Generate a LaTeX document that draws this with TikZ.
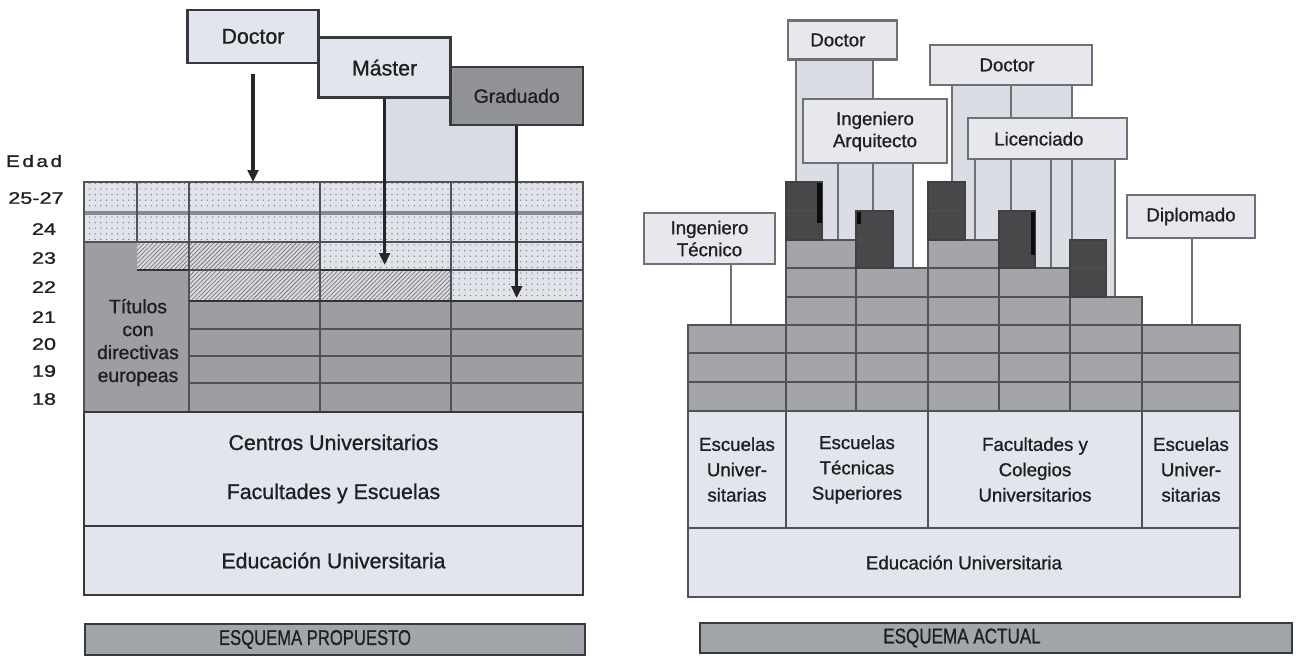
\documentclass[tikz,border=0pt]{standalone}
\usepackage{fontspec}
\setmainfont{Liberation Sans}[FakeBold=0.9]
\usepackage{graphicx}
\usetikzlibrary{patterns.meta,arrows.meta}
\definecolor{txt}{RGB}{30,30,35}
\definecolor{edge}{RGB}{55,57,62}
\definecolor{lightbox}{RGB}{226,229,236}
\definecolor{colbg}{RGB}{216,220,228}
\definecolor{gradc}{RGB}{146,147,150}
\definecolor{gridgray}{RGB}{156,158,162}
\definecolor{dotbg}{RGB}{224,227,233}
\definecolor{dotc}{RGB}{120,123,132}
\definecolor{hatchbg}{RGB}{216,218,222}
\definecolor{hatchc}{RGB}{118,120,126}
\definecolor{bandc}{RGB}{135,138,148}
\definecolor{rlight}{RGB}{230,232,237}
\definecolor{redge}{RGB}{110,112,118}
\definecolor{pill}{RGB}{218,221,227}
\definecolor{stair}{RGB}{163,165,169}
\definecolor{darkb}{RGB}{72,72,75}
\definecolor{barc}{RGB}{162,165,170}
\definecolor{gline}{RGB}{80,82,88}
\definecolor{schoolc}{RGB}{226,229,235}
\newcommand\pxl[1]{#1*0.75pt}
\begin{document}
\begin{tikzpicture}[x=0.75pt,y=-0.75pt,
  lbox/.style={draw=edge,line width=1.9pt,fill=lightbox,inner sep=0pt,text=txt,align=center,font=\fontsize{16}{19}\selectfont},
  rbox/.style={draw=redge,line width=1.6pt,fill=rlight,inner sep=0pt,text=txt,align=center,font=\fontsize{14}{16.5}\selectfont},
  schoolbox/.style={draw=gline,line width=1.2pt,fill=schoolc,inner sep=0pt,text=txt,align=center,font=\fontsize{14}{19}\selectfont},
  lbl/.style={text=txt,inner sep=0pt,align=center},
  agelbl/.style={text=txt,inner sep=0pt,font=\fontsize{12.5}{14}\selectfont},
  arr/.style={draw=black!85,line width=2.3pt,-{Triangle[width=8pt,length=9pt]}},
  dotcell/.style={fill=dotbg,postaction={pattern={Dots[distance=4.2pt,radius=0.55pt]},pattern color=dotc}},
  hatchcell/.style={fill=hatchbg,postaction={pattern={Lines[angle=45,distance=2.3pt,line width=0.55pt]},pattern color=hatchc}},
  thin/.style={draw=gline,line width=0.9pt},
  thick/.style={draw=black!80,line width=1.8pt},
  pline/.style={draw=redge,line width=1.2pt},
  stairc/.style={fill=stair,draw=gline,line width=1pt},
  darkc/.style={fill=darkb,draw=black!75,line width=0.8pt},
  barbox/.style={draw=edge,line width=1.8pt,fill=barc,inner sep=0pt,text=txt,font=\fontsize{16}{18}\selectfont}
]
\useasboundingbox (0,0) rectangle (1300,665);
\fill[white] (0,0) rectangle (1300,665);

%================ LEFT: ESQUEMA PROPUESTO ================
% light column under Master
\fill[colbg] (385,97) rectangle (518,182);
% title boxes
\node[lbox,minimum width=\pxl{131},minimum height=\pxl{53}] (dL) at (253,36.4) {Doctor};
\node[lbox,minimum width=\pxl{132},minimum height=\pxl{60}] (mL) at (384.6,67.7) {Máster};
\node[lbox,fill=gradc,minimum width=\pxl{132.5},minimum height=\pxl{58},font=\fontsize{14.5}{17}\selectfont] (gL) at (516.7,95.9) {Graduado};

% grid fills
\fill[dotcell] (84,182) rectangle (583,242);
\fill[dotcell] (320,242) rectangle (583,270);
\fill[dotcell] (451,270) rectangle (583,301);
\fill[hatchcell] (137,242) rectangle (320,270);
\fill[hatchcell] (189,270) rectangle (451,301);
\fill[gridgray] (84,242) -- (137,242) -- (137,270) -- (189,270) -- (189,301) -- (583,301) -- (583,412) -- (84,412) -- cycle;

% grid lines
\draw[draw=bandc,line width=2.6pt] (84,213) -- (583,213);
\draw[thin] (84,242) -- (583,242);
\draw[thin] (189,270) -- (583,270);
\draw[thin] (137,182) -- (137,242);
\draw[thin] (189,182) -- (189,412);
\draw[thin] (320,182) -- (320,412);
\draw[thin] (451,182) -- (451,412);
\draw[thin] (189,329) -- (583,329);
\draw[thin] (189,356) -- (583,356);
\draw[thin] (189,383) -- (583,383);
\draw[thick] (137,270) -- (189,270);
\draw[thick] (320,270) -- (451,270);
\draw[thick] (189,301) -- (583,301);
\draw[thin] (84,182) rectangle (583,412);

\node[lbl,font=\fontsize{14.5}{17.2}\selectfont] (tit) at (138,342.5) {Títulos\\con\\directivas\\europeas};

% arrows
\coordinate (aD) at (253,182);
\coordinate (aM) at (385,265);
\coordinate (aG) at (518,298);
\draw[arr,shorten <=7pt] (dL.south) -- (aD);
\draw[arr] (mL.south) -- (mL.south |- aM);
\draw[arr] (gL.south) -- (gL.south |- aG);

% age labels
\node[agelbl] (edad) at (34,161) {\scalebox{1.25}[1]{\addfontfeature{LetterSpace=12}Edad}};
\node[agelbl] (e1) at (36,198) {\scalebox{1.3}[1]{25-27}};
\node[agelbl] (e2) at (44,229) {\scalebox{1.3}[1]{24}};
\node[agelbl] (e3) at (44,258) {\scalebox{1.3}[1]{23}};
\node[agelbl] (e4) at (44,287) {\scalebox{1.3}[1]{22}};
\node[agelbl] (e5) at (44,317) {\scalebox{1.3}[1]{21}};
\node[agelbl] (e6) at (44,344) {\scalebox{1.3}[1]{20}};
\node[agelbl] (e7) at (44,371) {\scalebox{1.3}[1]{19}};
\node[agelbl] (e8) at (44,399) {\scalebox{1.3}[1]{18}};

% lower boxes
\node[lbox,line width=1.6pt,minimum width=\pxl{499},minimum height=\pxl{114},font=\fontsize{16}{36.75}\selectfont] (cen) at (333.5,469) {Centros Universitarios\\Facultades y Escuelas};
\node[lbox,line width=1.6pt,minimum width=\pxl{499},minimum height=\pxl{69}] (eduL) at (333.5,560.5) {Educación Universitaria};
\node[barbox,minimum width=\pxl{500},minimum height=\pxl{31}] (barL) at (335,639.5) {\scalebox{0.78}[1]{ESQUEMA PROPUESTO}\hspace*{30pt}};

%================ RIGHT: ESQUEMA ACTUAL ================
% pillars
\fill[pill] (796,59) rectangle (873,297);
\fill[pill] (838,163) rectangle (912.7,297);
\fill[pill] (952,85) rectangle (1072,297);
\fill[pill] (975,159) rectangle (1115,297);
\draw[pline] (796,59) -- (796,297);
\draw[pline] (873,59) -- (873,297);
\draw[pline] (838,163) -- (838,297);
\draw[pline] (912.7,163) -- (912.7,297);
\draw[pline] (952,85) -- (952,297);
\draw[pline] (1011,85) -- (1011,297);
\draw[pline] (1072,85) -- (1072,297);
\draw[pline] (975,159) -- (975,297);
\draw[pline] (1050.7,159) -- (1050.7,297);
\draw[pline] (1115,159) -- (1115,297);

% title boxes
\node[rbox,minimum width=\pxl{109},minimum height=\pxl{39}] (dR1) at (842.5,40) {Doctor\hspace*{7pt}};
\node[rbox,minimum width=\pxl{144},minimum height=\pxl{64}] (iaR) at (875,131.3) {Ingeniero\\Arquitecto};
\node[rbox,minimum width=\pxl{162},minimum height=\pxl{40}] (dR2) at (1011,65) {Doctor\hspace*{6pt}};
\node[rbox,minimum width=\pxl{159},minimum height=\pxl{41}] (liR) at (1047.5,138.8) {Licenciado\hspace*{13pt}};
\node[rbox,minimum width=\pxl{131},minimum height=\pxl{51}] (itR) at (709.5,238.5) {Ingeniero\\Técnico};
\node[rbox,minimum width=\pxl{128},minimum height=\pxl{43}] (dpR) at (1191,216.5) {Diplomado};

\coordinate (itEnd) at (731,325);
\coordinate (dpEnd) at (1192,325);
\draw[pline] (itR.south -| itEnd) -- (itEnd);
\draw[pline] (dpR.south -| dpEnd) -- (dpEnd);

% stairs
\filldraw[stairc] (688,325) rectangle (1240,411);
\filldraw[stairc] (786,297) rectangle (1142,325);
\filldraw[stairc] (786,268) rectangle (1070,297);
\filldraw[stairc] (786,240) rectangle (856,268);
\filldraw[stairc] (928,240) rectangle (999,268);
\draw[gline,line width=1.3pt] (688,353) -- (1240,353);
\draw[gline,line width=1.3pt] (688,382) -- (1240,382);
\draw[gline,line width=1pt] (786,240) -- (786,411);
\draw[gline,line width=1pt] (856,268) -- (856,411);
\draw[gline,line width=1pt] (928,240) -- (928,411);
\draw[gline,line width=1pt] (999,240) -- (999,411);
\draw[gline,line width=1pt] (1070,268) -- (1070,411);
\draw[gline,line width=1pt] (1142,297) -- (1142,411);

% dark blocks
\filldraw[darkc] (786,182) rectangle (822,240);
\filldraw[darkc] (856,211) rectangle (893,268);
\filldraw[darkc] (928,182) rectangle (965,240);
\filldraw[darkc] (999,211) rectangle (1035,268);
\filldraw[darkc] (1070,240) rectangle (1106,297);
\draw[black!70,line width=0.9pt] (786,211) -- (822,211);
\draw[black!70,line width=0.9pt] (856,240) -- (893,240);
\draw[black!70,line width=0.9pt] (928,211) -- (965,211);
\draw[black!70,line width=0.9pt] (999,240) -- (1035,240);
\draw[black!70,line width=0.9pt] (1070,268) -- (1106,268);
\fill[black!95] (817,183) rectangle (822,223);
\fill[black!95] (856.5,212) rectangle (861,224);
\fill[black!95] (1031,212) rectangle (1035,255);

% schools
\node[schoolbox,minimum width=\pxl{98},minimum height=\pxl{117}] (s1) at (737,469.5) {Escuelas\\Univer-\\sitarias};
\node[schoolbox,minimum width=\pxl{142},minimum height=\pxl{117}] (s2) at (857,469.5) {Escuelas\\Técnicas\\Superiores};
\node[schoolbox,minimum width=\pxl{214},minimum height=\pxl{117}] (s3) at (1035,469.5) {Facultades y\\Colegios\\Universitarios};
\node[schoolbox,minimum width=\pxl{98},minimum height=\pxl{117}] (s4) at (1191,469.5) {Escuelas\\Univer-\\sitarias};
\node[schoolbox,minimum width=\pxl{552},minimum height=\pxl{69}] (eduR) at (964,562.5) {Educación Universitaria};
\node[barbox,minimum width=\pxl{592},minimum height=\pxl{30}] (barR) at (996,638) {\scalebox{0.8}[1]{ESQUEMA ACTUAL}\hspace*{51pt}};
\end{tikzpicture}
\end{document}
